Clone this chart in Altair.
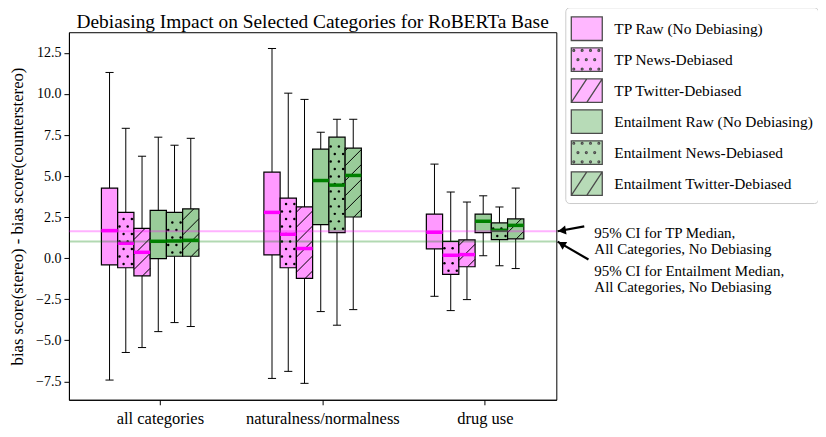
import altair as alt
import pandas as pd

# ---------------- data ----------------
categories = ["all categories", "naturalness/normalness", "drug use"]
series = ["TP Raw (No Debiasing)", "TP News-Debiased", "TP Twitter-Debiased",
          "Entailment Raw (No Debiasing)", "Entailment News-Debiased",
          "Entailment Twitter-Debiased"]
patterns = ["none", "dots", "hatch", "none", "dots", "hatch"]

# one row per category, one value per series
whisker_low = [[-7.42, -5.74, -5.44, -4.47, -3.92, -4.16],
               [-7.32, -6.89, -7.62, -3.25, -4.08, -3.13],
               [-2.32, -3.19, -2.52, 0.15, -0.46, -0.63]]
q1 = [[-0.40, -0.58, -1.07, -0.02, 0.12, 0.12],
      [0.20, -0.58, -1.23, 2.04, 1.56, 2.51],
      [0.57, -0.99, -0.52, 1.56, 1.13, 1.18]]
median = [[1.68, 0.91, 0.36, 1.03, 1.05, 1.09],
          [2.79, 1.46, 0.59, 4.73, 4.45, 5.04],
          [1.58, 0.18, 0.22, 2.25, 1.70, 2.00]]
q3 = [[4.27, 2.79, 1.82, 2.91, 2.79, 3.00],
      [5.24, 3.66, 3.12, 6.64, 7.37, 6.70],
      [2.69, 1.03, 1.12, 2.69, 2.15, 2.39]]
whisker_high = [[11.31, 7.91, 6.21, 7.37, 6.88, 7.30],
                [12.77, 10.05, 9.67, 7.67, 8.46, 8.46],
                [5.73, 4.03, 3.42, 3.80, 3.12, 4.27]]

xtick_pos = [0.56, 1.56, 2.56]
ytick_vals = [-7.5, -5.0, -2.5, 0.0, 2.5, 5.0, 7.5, 10.0, 12.5]

ci_values = [1.64, 1.01]          # 95% CI lines (TP, Entailment)
ann_text = ["95% CI for TP Median,\nAll Categories, No Debiasing",
            "95% CI for Entailment Median,\nAll Categories, No Debiasing"]
ann_x = [3.234, 3.234]
ann_y = [1.51, -0.78]
arrow_tail_x = [3.172, 3.198]
arrow_tail_y = [1.94, -0.08]
arrow_tip_x = [3.008, 3.008]
arrow_head_x = [3.035, 3.032]
arrow_head_y = [1.683, 0.871]
arrow_head_angle = [351, 31]

# ---------------- styles ----------------
FONT = "Liberation Serif"
fill_colors = ["#ff99ff"] * 3 + ["#99cc99"] * 3
median_colors = ["#ff00ff"] * 3 + ["#008000"] * 3
ci_colors = ["#ff00ff", "#008000"]

rows = []
for i, cat in enumerate(categories):
    for j, s in enumerate(series):
        rows.append(dict(cat=cat, cat_idx=i, ser_idx=j, series=s, pattern=patterns[j],
                         wlo=whisker_low[i][j], q1=q1[i][j], med=median[i][j],
                         q3=q3[i][j], whi=whisker_high[i][j], mc=median_colors[j]))
df = pd.DataFrame(rows)

xscale = alt.Scale(domain=[0, 3], nice=False, zero=False)
yscale = alt.Scale(domain=[-8.62, 13.76], nice=False, zero=False)

label_expr = "[" + ",".join("'" + c + "'" for c in categories) + "][indexof([" + \
    ",".join(str(v) for v in xtick_pos) + "], datum.value)]"
xaxis = alt.Axis(values=xtick_pos, labelExpr=label_expr, grid=False, tickSize=5,
                 labelFont=FONT, labelFontSize=16.5, labelColor="black",
                 tickColor="black", domainColor="black", labelPadding=6, title=None)
yaxis = alt.Axis(values=ytick_vals, format=".1f", grid=False, tickSize=5,
                 labelFont=FONT, labelFontSize=14, labelColor="black",
                 tickColor="black", domainColor="black", labelPadding=3,
                 title="bias score(stereo) - bias score(counterstereo)",
                 titleFont=FONT, titleFontSize=16.7, titleFontWeight="normal",
                 titleColor="black", titlePadding=9)


def X(f):
    return alt.X(f, type="quantitative", scale=xscale, axis=xaxis)


def Y(f):
    return alt.Y(f, type="quantitative", scale=yscale, axis=yaxis)


BW = 0.1
base = alt.Chart(df).transform_calculate(
    xc=f"datum.cat_idx + 0.5 + (datum.ser_idx - 2.5) * {BW}",
).transform_calculate(
    xl=f"datum.xc - {BW / 2}", xr=f"datum.xc + {BW / 2}",
    cl=f"datum.xc - {BW / 4}", cr=f"datum.xc + {BW / 4}",
)

whisk_lo = base.mark_rule(color="black", strokeWidth=1).encode(x=X("xc"), y=Y("wlo"), y2="q1")
whisk_hi = base.mark_rule(color="black", strokeWidth=1).encode(x=X("xc"), y=Y("q3"), y2="whi")
cap_lo = base.mark_rule(color="black", strokeWidth=1).encode(x=X("cl"), x2="cr", y=Y("wlo"))
cap_hi = base.mark_rule(color="black", strokeWidth=1).encode(x=X("cl"), x2="cr", y=Y("whi"))

# legend symbols: rectangle outline + texture (dots / diagonal lines)
RECT = "M-1,-0.76H1V0.76H-1Z"


def circ(x, y, r=0.06):
    return f"M{x - r:.3f},{y:.3f}a{r},{r} 0 1,0 {2 * r},0a{r},{r} 0 1,0 {-2 * r},0"


dot_path = "".join(circ(x, y) for y in (-0.6, 0.6) for x in (-0.84, -0.3, 0.24, 0.78)) + \
           "".join(circ(x, 0) for x in (-0.57, -0.03, 0.51))
hatch_path = "M-1,0.76L0,-0.76M0,0.76L1,-0.76"
shape_paths = [RECT + ("" if p == "none" else dot_path if p == "dots" else hatch_path)
               for p in patterns]

legend = alt.Legend(orient="none", legendX=497, legendY=-25, title=None,
                    symbolSize=961, rowPadding=0, padding=5, labelOffset=11,
                    labelLimit=0, labelFont=FONT, labelFontSize=15.4, labelColor="black",
                    symbolType=RECT, symbolStrokeColor="black", symbolStrokeWidth=1.3,
                    strokeColor="#cccccc", cornerRadius=4)
fill_scale = alt.Scale(domain=series, range=fill_colors)

boxes = base.mark_rect(stroke="black", strokeWidth=1.2).encode(
    x=X("xl"), x2="xr", y=Y("q1"), y2="q3",
    fill=alt.Fill("series:N", scale=fill_scale, legend=legend),
)

# dotted texture
DROW = 0.456
dots = base.transform_filter("datum.pattern == 'dots'").transform_calculate(
    rk=f"sequence(0, floor((datum.q3 - datum.q1) / {DROW}))"
).transform_flatten(["rk"]).transform_calculate(
    ck="[0, 1]"
).transform_flatten(["ck"]).transform_calculate(
    dx="(datum.rk % 2 == 0 ? [-0.0135, 0.0375] : [-0.0387, 0.0117])[datum.ck]"
).transform_calculate(
    px="datum.xc + datum.dx", py=f"datum.q1 + (datum.rk + 0.5) * {DROW}"
).mark_point(filled=True, color="black", size=6, opacity=1).encode(x=X("px"), y=Y("py"))

# diagonal hatch texture
HS, HD = 0.913, 0.99
hatch = base.transform_filter("datum.pattern == 'hatch'").transform_calculate(
    nk=f"sequence(0, ceil((datum.q3 - datum.q1 + {HD}) / {HS}) + 1)"
).transform_flatten(["nk"]).transform_calculate(
    yb=f"datum.q1 - {HD} + (datum.nk + 0.5) * {HS}"
).transform_calculate(
    tlo=f"max(0, (datum.q1 - datum.yb) / {HD})",
    thi=f"min(1, (datum.q3 - datum.yb) / {HD})",
).transform_filter("datum.thi > datum.tlo + 0.02").transform_calculate(
    hx1=f"datum.xl + datum.tlo * {BW}", hy1=f"datum.yb + datum.tlo * {HD}",
    hx2=f"datum.xl + datum.thi * {BW}", hy2=f"datum.yb + datum.thi * {HD}",
).mark_rule(color="black", strokeWidth=1).encode(x=X("hx1"), y=Y("hy1"), x2="hx2", y2="hy2")

medians = base.mark_rule(strokeWidth=3.5).encode(
    x=X("xl"), x2="xr", y=Y("med"), color=alt.Color("mc:N", scale=None))

ci_df = pd.DataFrame({"v": ci_values, "c": ci_colors})
ci_lines = alt.Chart(ci_df).mark_rule(strokeWidth=2, opacity=0.3).encode(
    y=Y("v"), color=alt.Color("c:N", scale=None))

# legend carrier: fill + shape on the same field -> one merged legend
legend_layer = alt.Chart(pd.DataFrame({"series": series})).transform_filter(
    "false").mark_point(filled=True, stroke="black", strokeWidth=1).encode(
    fill=alt.Fill("series:N", scale=fill_scale, legend=legend),
    shape=alt.Shape("series:N", scale=alt.Scale(domain=series, range=shape_paths),
                    legend=legend))

# annotations
ann_df = pd.DataFrame({"t": ann_text, "x": ann_x, "y": ann_y})
ann = alt.Chart(ann_df).mark_text(align="left", baseline="middle", font=FONT, fontSize=15,
                                  lineHeight=16, lineBreak="\n", color="black").encode(
    x=X("x"), y=Y("y"), text="t:N")
arr_df = pd.DataFrame({"x": arrow_tail_x, "y": arrow_tail_y, "x2": arrow_tip_x,
                       "y2": ci_values, "hx": arrow_head_x, "hy": arrow_head_y,
                       "a": arrow_head_angle})
shafts = alt.Chart(arr_df).mark_rule(color="black", strokeWidth=2.2).encode(
    x=X("x"), y=Y("y"), x2="x2", y2="y2")
heads = alt.Chart(arr_df).mark_point(shape="triangle-left", filled=True, color="black",
                                     size=80, opacity=1).encode(
    x=X("hx"), y=Y("hy"), angle=alt.Angle("a:Q", scale=None))

chart = alt.layer(whisk_lo, whisk_hi, cap_lo, cap_hi, boxes, dots, hatch, medians,
                  ci_lines, legend_layer, ann, shafts, heads).properties(
    width=488, height=368,
    autosize=alt.AutoSizeParams(type="none"),
    padding={"left": 61, "top": 24, "right": 262, "bottom": 28},
    title=alt.TitleParams("Debiasing Impact on Selected Categories for RoBERTa Base",
                          font=FONT, fontSize=19.4, fontWeight="normal", color="black",
                          offset=-25.5),
).configure_view(stroke="black", strokeWidth=1)

chart.save("out.html", embed_options={"renderer": "svg", "actions": False})
